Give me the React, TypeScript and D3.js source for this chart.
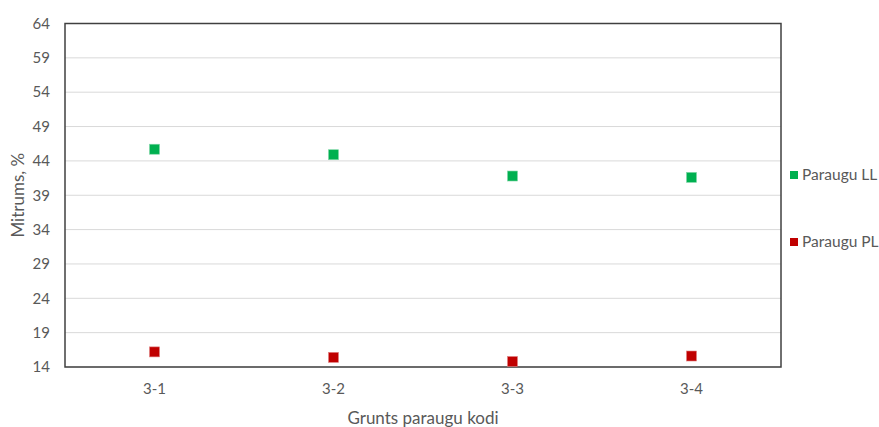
import React from "react";
import * as d3 from "d3";

const categories = ["3-1", "3-2", "3-3", "3-4"];
const seriesLL = [45.7, 44.9, 41.8, 41.6];
const seriesPL = [16.2, 15.4, 14.8, 15.6];
const yTicks = [14, 19, 24, 29, 34, 39, 44, 49, 54, 59, 64];
const seriesNames = ["Paraugu LL", "Paraugu PL"];
const seriesColors = ["#00b050", "#c00000"];

export default function App() {
  const W = 879, H = 427;
  const left = 65, right = 781, top = 23.5, bottom = 367;
  const x = d3.scaleBand<string>().domain(categories).range([left, right]);
  const y = d3.scaleLinear().domain([14, 64]).range([bottom, top]);
  const font = "Lato, 'Open Sans', sans-serif";
  const txt = "#595959";
  const all = [seriesLL, seriesPL];
  const ms = 10;
  return (
    <svg width={W} height={H} style={{ position: "absolute", left: 0, top: 0 }} fontFamily={font}>
      <rect x={0} y={0} width={W} height={H} fill="#fff" />
      {yTicks.map((t) => (
        <g key={t}>
          <line x1={left} x2={right} y1={y(t)} y2={y(t)} stroke="#d9d9d9" strokeWidth={1} />
          <text x={50} y={y(t)} dy="0.35em" textAnchor="end" fontSize={15} fill={txt}>{t}</text>
        </g>
      ))}
      <rect x={left} y={top} width={right - left} height={bottom - top} fill="none" stroke="#404040" strokeWidth={1.5} />
      {categories.map((c) => (
        <text key={c} x={x(c)! + x.bandwidth() / 2} y={389} dy="0.35em" textAnchor="middle" fontSize={15} fill={txt}>{c}</text>
      ))}
      {all.map((s, si) =>
        s.map((v, i) => (
          <rect key={si + "-" + i} x={x(categories[i])! + x.bandwidth() / 2 - ms / 2} y={y(v) - ms / 2} width={ms} height={ms}
            fill={seriesColors[si]} stroke={si === 0 ? "#7fd7a7" : "#e08080"} strokeWidth={0.6} />
        ))
      )}
      <text transform={`translate(18,${(top + bottom) / 2}) rotate(-90)`} textAnchor="middle" dy="0.35em" fontSize={17} fill={txt}>Mitrums, %</text>
      <text x={(left + right) / 2} y={418} textAnchor="middle" dy="0.35em" fontSize={17} fill={txt}>Grunts paraugu kodi</text>
      {seriesNames.map((n, i) => (
        <g key={n}>
          <rect x={790} y={[175, 242][i] - 4} width={8} height={8} fill={seriesColors[i]} />
          <text x={802} y={[175, 242][i]} dy="0.35em" fontSize={15.5} fill={txt}>{n}</text>
        </g>
      ))}
    </svg>
  );
}
